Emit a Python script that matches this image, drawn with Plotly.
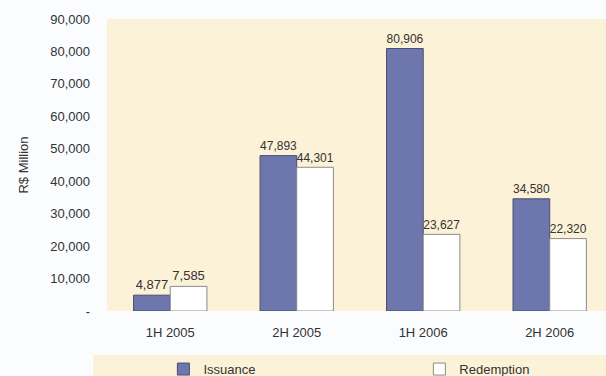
import plotly.graph_objects as go

periods = ["1H 2005", "2H 2005", "1H 2006", "2H 2006"]
issuance = [4877, 47893, 80906, 34580]
redemption = [7585, 44301, 23627, 22320]
y_ticks = [0, 10000, 20000, 30000, 40000, 50000, 60000, 70000, 80000, 90000]
y_tick_text = ["-", "10,000", "20,000", "30,000", "40,000", "50,000",
               "60,000", "70,000", "80,000", "90,000"]

FONT = "Liberation Sans, Arial, sans-serif"
CREAM = "#FCF2D8"
TXT = "#333333"
FS = 13

fig = go.Figure()
fig.add_trace(go.Bar(
    name="Issuance", x=periods, y=issuance, legend="legend",
    marker=dict(color="#6E76AE", line=dict(color="#4A4E72", width=1)),
    text=[f"{v:,}" for v in issuance], textposition="outside",
    textfont=dict(family=FONT, size=FS, color=TXT), cliponaxis=False,
))
fig.add_trace(go.Bar(
    name="Redemption", x=periods, y=redemption, legend="legend2",
    marker=dict(color="#FFFFFF", line=dict(color="#8A8A8A", width=1)),
    text=[f"{v:,}" for v in redemption], textposition="outside",
    textfont=dict(family=FONT, size=FS, color=TXT), cliponaxis=False,
))

# cream band behind the legend
fig.add_shape(type="rect", xref="paper", yref="paper",
              x0=-0.028, x1=1.0, y0=-0.223, y1=-0.151,
              fillcolor=CREAM, line=dict(width=0), layer="below")

legend_style = dict(orientation="h", yanchor="middle", xanchor="left",
                    bgcolor="rgba(0,0,0,0)",
                    font=dict(family=FONT, size=FS, color=TXT))

fig.update_layout(
    width=606, height=376,
    margin=dict(l=107, r=0, t=19, b=65, autoexpand=False),
    paper_bgcolor="#FBFCFE", plot_bgcolor=CREAM,
    barmode="group", bargap=0.42, bargroupgap=0,
    font=dict(family=FONT, size=FS, color=TXT),
    showlegend=True,
    legend=dict(x=0.113, y=-0.199, **legend_style),
    legend2=dict(x=0.626, y=-0.199, **legend_style),
    xaxis=dict(range=[-0.5, 3.445], showgrid=False, zeroline=False, showline=False,
               ticks="", ticklabelstandoff=12,
               tickfont=dict(family=FONT, size=FS, color=TXT)),
    yaxis=dict(range=[0, 90000], tickvals=y_ticks, ticktext=y_tick_text,
               showgrid=False, zeroline=False, showline=False, ticks="",
               ticklabelstandoff=16,
               tickfont=dict(family=FONT, size=FS, color=TXT),
               title=dict(text="R$ Million", standoff=18,
                          font=dict(family=FONT, size=FS, color=TXT))),
)

fig.write_html("out.html")
